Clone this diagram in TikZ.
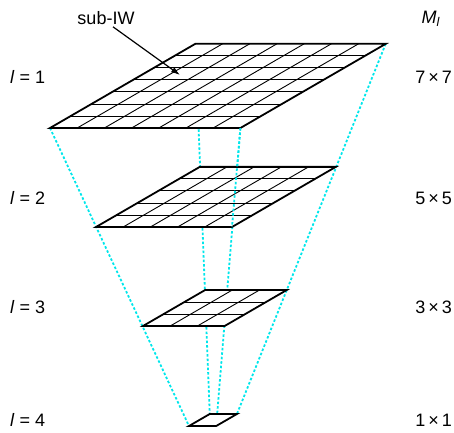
\documentclass[tikz,border=0pt]{standalone}
\usepackage{fontspec}
\setmainfont{Liberation Sans}
\usetikzlibrary{arrows.meta,calc}
\definecolor{linkcyan}{RGB}{0,230,235}

\begin{document}
\begin{tikzpicture}[x=1pt,y=-1pt,
  every node/.style={font=\fontsize{18}{21}\selectfont, inner sep=0pt},
  link/.style={linkcyan, line width=1.8pt, dash pattern=on 2.5pt off 2pt},
  rim/.style={line width=1.8pt, line join=miter},
  cell/.style={line width=0.9pt}]
\useasboundingbox (0,0) rectangle (454,432);
\def\c{27.2}
% corners of the four levels
\foreach \k/\n/\bx/\by in {1/7/50/128,2/5/96/227,3/3/143/326,4/1/189/426}{
  \coordinate (bl\k) at (\bx,\by);
  \coordinate (br\k) at (\bx+\n*\c,\by);
  \coordinate (tl\k) at (\bx+0.763*\n*\c,\by-0.442*\n*\c);
  \coordinate (tr\k) at (\bx+1.763*\n*\c,\by-0.442*\n*\c);
}
\draw[link] (bl1) -- (bl4);
\draw[link] (br1) -- (br4);
\draw[link] (tl1) -- (tl4);
\draw[link] (tr1) -- (tr4);
% the grids
\foreach \k/\n in {1/7,2/5,3/3,4/1}{
  \fill[white] (bl\k) -- (br\k) -- (tr\k) -- (tl\k) -- cycle;
  \ifnum\n>1
    \pgfmathtruncatemacro\m{\n-1}
    \foreach \i in {1,...,\m}{
      \draw[cell] ($(bl\k)!\i/\n!(tl\k)$) -- ($(br\k)!\i/\n!(tr\k)$);
      \draw[cell] ($(bl\k)!\i/\n!(br\k)$) -- ($(tl\k)!\i/\n!(tr\k)$);
    }
  \fi
  \draw[rim] (bl\k) -- (br\k) -- (tr\k) -- (tl\k) -- cycle;
}
\draw[link] (br1) -- (br2);
% labels
\node[anchor=west] (lev1) at (10,77) {\textit{l} = 1};
\node[anchor=west] (lev2) at (10,198) {\textit{l} = 2};
\node[anchor=west] (lev3) at (10,307) {\textit{l} = 3};
\node[anchor=west] (lev4) at (10,420) {\textit{l} = 4};
\node (mhead) at (431,19) {\textit{M}\textsubscript{\textit{l}}};
\node[anchor=east] (size1) at (452,77) {7\,×\,7};
\node[anchor=east] (size2) at (452,198) {5\,×\,5};
\node[anchor=east] (size3) at (452,307) {3\,×\,3};
\node[anchor=east] (size4) at (452,420) {1\,×\,1};
\node (sub) at (106,18) {sub-IW};
\coordinate (tip) at (180,75);
\draw[line width=1.2pt, -{Latex[length=9pt,width=6pt]}] ([xshift=7pt,yshift=-2pt]sub.south) -- (tip);
\end{tikzpicture}
\end{document}
